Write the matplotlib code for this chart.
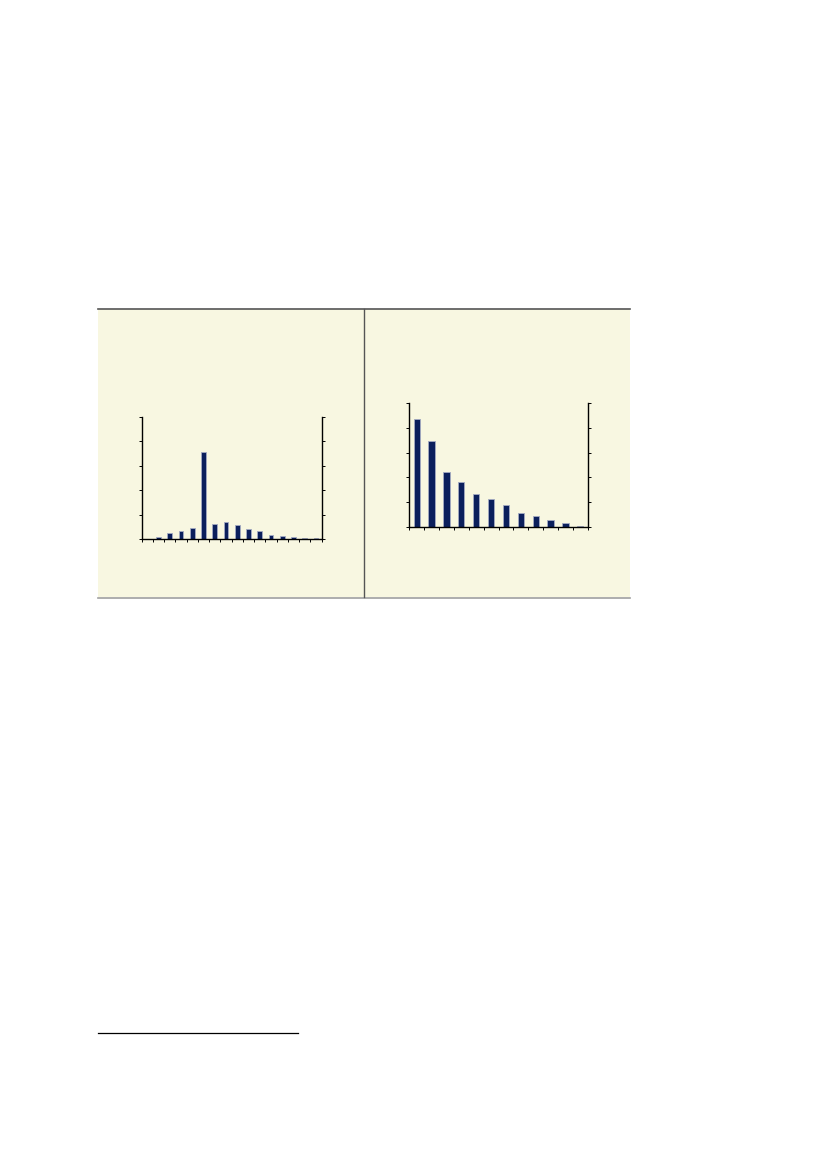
import matplotlib
matplotlib.use('Agg')
import matplotlib.pyplot as plt
from matplotlib.patches import Rectangle
from matplotlib.lines import Line2D
import numpy as np

# left chart: 16 classes, peak in class 5
left_vals = [0, 0.4, 1.2, 1.7, 2.4, 17.9, 3.1, 3.5, 2.9, 2.1, 1.6, 0.95, 0.6, 0.5, 0.25, 0.2]
# right chart: 12 classes, decaying
right_vals = [21.8, 17.4, 11.0, 9.0, 6.7, 5.6, 4.5, 2.95, 2.25, 1.5, 0.8, 0.35]
y_max = 25
y_step = 5

W, H = 827, 1169
bar_color = "#0b1f5c"
panel_color = "#f8f7e1"

fig = plt.figure(figsize=(W / 100, H / 100), dpi=100)
fig.patch.set_facecolor("white")


def fx(x):
    return x / W


def fy(y):
    return 1 - y / H


# beige panel with its rules
fig.patches.append(Rectangle((fx(98), fy(597)), fx(630) - fx(98), fy(309) - fy(597),
                             transform=fig.transFigure, facecolor=panel_color,
                             edgecolor="none", zorder=-5))
fig.lines.append(Line2D([fx(98), fx(630)], [fy(309), fy(309)], transform=fig.transFigure,
                        color="#555555", lw=1.2, zorder=-4))
fig.lines.append(Line2D([fx(98), fx(630)], [fy(597.5), fy(597.5)], transform=fig.transFigure,
                        color="#a0a0a0", lw=1.2, zorder=-4))
fig.lines.append(Line2D([fx(364), fx(364)], [fy(309), fy(597)], transform=fig.transFigure,
                        color="#555555", lw=1.0, zorder=-4))

# footnote rule
fig.lines.append(Line2D([fx(98), fx(298)], [fy(1033), fy(1033)], transform=fig.transFigure,
                        color="black", lw=0.9))


def draw(box, vals):
    x0, y0, x1, y1 = box
    ax = fig.add_axes([fx(x0), fy(y1), fx(x1) - fx(x0), fy(y0) - fy(y1)])
    ax.set_zorder(2)
    ax.set_facecolor("none")
    n = len(vals)
    ax.bar(np.arange(n), vals, width=0.42, color=bar_color,
           edgecolor="#a4abc2", linewidth=0.6)
    ax.set_xlim(-0.5, n - 0.5)
    ax.set_ylim(0, y_max)
    ax.set_xticks(np.arange(n + 1) - 0.5)
    ax.set_yticks(np.arange(0, y_max + 1, y_step))
    ax.tick_params(axis="x", direction="out", length=2.2, width=0.7, labelbottom=False)
    ax.tick_params(axis="y", direction="out", length=2.2, width=0.7, labelleft=False,
                   right=True, labelright=False)
    ax.spines["top"].set_visible(False)
    for s in ("left", "right", "bottom"):
        ax.spines[s].set_linewidth(1.0)
        ax.spines[s].set_color("black")
    return ax


draw((141.7, 416.7, 321.7, 539.3), left_vals)
draw((409.3, 402.7, 587.7, 527.3), right_vals)

fig.savefig("out.png", dpi=100, facecolor="white")
